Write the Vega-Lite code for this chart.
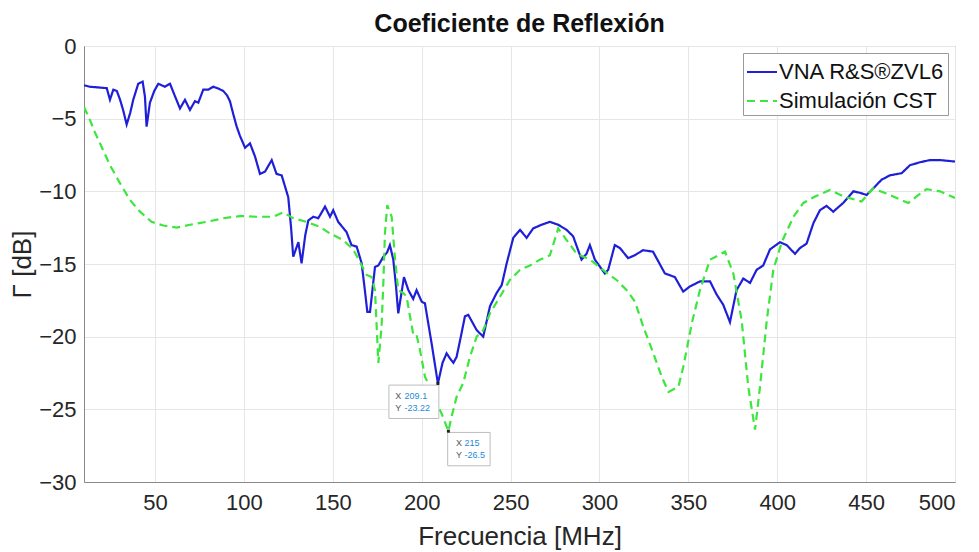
{
  "$schema": "https://vega.github.io/schema/vega-lite/v6.json",
  "autosize": {"type": "none"},
  "width": 871,
  "height": 436,
  "padding": {"left": 84, "top": 46, "right": 24, "bottom": 70},
  "background": "white",
  "title": {"text": "Coeficiente de Reflexión", "font": "Liberation Sans", "fontSize": 25, "fontWeight": "bold", "color": "#111", "offset": 8, "dy": 10, "anchor": "middle"},
  "config": {
    "view": {"stroke": "#9a9a9a", "strokeWidth": 1},
    "axis": {"labelFont": "Liberation Sans", "titleFont": "Liberation Sans", "labelFontSize": 22, "titleFontSize": 26, "titleFontWeight": "normal", "labelColor": "#262626", "titleColor": "#262626", "domainColor": "#8a8a8a", "gridColor": "#e6e6e6", "tickColor": "#8a8a8a", "ticks": false},
    "legend": {"labelFont": "Liberation Sans"}
  },
  "datasets": {
    "curves": [
      {"f":10,"g":-2.7,"s":"VNA R&S®ZVL6"},{"f":13,"g":-2.8,"s":"VNA R&S®ZVL6"},{"f":18,"g":-2.85,"s":"VNA R&S®ZVL6"},{"f":22.8,"g":-2.9,"s":"VNA R&S®ZVL6"},{"f":24.6,"g":-3.7,"s":"VNA R&S®ZVL6"},{"f":26.5,"g":-3.0,"s":"VNA R&S®ZVL6"},{"f":28.5,"g":-3.1,"s":"VNA R&S®ZVL6"},{"f":30.3,"g":-3.7,"s":"VNA R&S®ZVL6"},{"f":32,"g":-4.4,"s":"VNA R&S®ZVL6"},{"f":34,"g":-5.4,"s":"VNA R&S®ZVL6"},{"f":36,"g":-4.6,"s":"VNA R&S®ZVL6"},{"f":37.7,"g":-3.7,"s":"VNA R&S®ZVL6"},{"f":40.5,"g":-2.6,"s":"VNA R&S®ZVL6"},{"f":43,"g":-2.45,"s":"VNA R&S®ZVL6"},{"f":44.3,"g":-3.5,"s":"VNA R&S®ZVL6"},{"f":45.2,"g":-5.55,"s":"VNA R&S®ZVL6"},{"f":47.1,"g":-3.9,"s":"VNA R&S®ZVL6"},{"f":49.5,"g":-3.1,"s":"VNA R&S®ZVL6"},{"f":51.8,"g":-2.6,"s":"VNA R&S®ZVL6"},{"f":55.5,"g":-2.8,"s":"VNA R&S®ZVL6"},{"f":58.4,"g":-2.6,"s":"VNA R&S®ZVL6"},{"f":61,"g":-3.4,"s":"VNA R&S®ZVL6"},{"f":64,"g":-4.3,"s":"VNA R&S®ZVL6"},{"f":66.8,"g":-3.7,"s":"VNA R&S®ZVL6"},{"f":69.6,"g":-4.4,"s":"VNA R&S®ZVL6"},{"f":72.4,"g":-3.8,"s":"VNA R&S®ZVL6"},{"f":74.3,"g":-3.9,"s":"VNA R&S®ZVL6"},{"f":77.1,"g":-3.0,"s":"VNA R&S®ZVL6"},{"f":80,"g":-3.0,"s":"VNA R&S®ZVL6"},{"f":82.7,"g":-2.8,"s":"VNA R&S®ZVL6"},{"f":86,"g":-2.95,"s":"VNA R&S®ZVL6"},{"f":88.4,"g":-3.1,"s":"VNA R&S®ZVL6"},{"f":90.5,"g":-3.4,"s":"VNA R&S®ZVL6"},{"f":92.1,"g":-3.8,"s":"VNA R&S®ZVL6"},{"f":94,"g":-4.7,"s":"VNA R&S®ZVL6"},{"f":95.9,"g":-5.55,"s":"VNA R&S®ZVL6"},{"f":97.8,"g":-6.2,"s":"VNA R&S®ZVL6"},{"f":100.6,"g":-7.0,"s":"VNA R&S®ZVL6"},{"f":103.4,"g":-6.7,"s":"VNA R&S®ZVL6"},{"f":106.2,"g":-7.6,"s":"VNA R&S®ZVL6"},{"f":109,"g":-8.8,"s":"VNA R&S®ZVL6"},{"f":111.8,"g":-8.65,"s":"VNA R&S®ZVL6"},{"f":115.6,"g":-7.85,"s":"VNA R&S®ZVL6"},{"f":118.3,"g":-8.8,"s":"VNA R&S®ZVL6"},{"f":121.2,"g":-8.9,"s":"VNA R&S®ZVL6"},{"f":124.9,"g":-10.4,"s":"VNA R&S®ZVL6"},{"f":126.5,"g":-12.5,"s":"VNA R&S®ZVL6"},{"f":127.7,"g":-14.5,"s":"VNA R&S®ZVL6"},{"f":130.6,"g":-13.5,"s":"VNA R&S®ZVL6"},{"f":132.4,"g":-14.95,"s":"VNA R&S®ZVL6"},{"f":134.5,"g":-13.0,"s":"VNA R&S®ZVL6"},{"f":136.2,"g":-12.0,"s":"VNA R&S®ZVL6"},{"f":139,"g":-11.75,"s":"VNA R&S®ZVL6"},{"f":141.8,"g":-11.85,"s":"VNA R&S®ZVL6"},{"f":145.6,"g":-11.05,"s":"VNA R&S®ZVL6"},{"f":148.4,"g":-11.75,"s":"VNA R&S®ZVL6"},{"f":150.2,"g":-11.3,"s":"VNA R&S®ZVL6"},{"f":153,"g":-12.1,"s":"VNA R&S®ZVL6"},{"f":157.7,"g":-12.8,"s":"VNA R&S®ZVL6"},{"f":160.5,"g":-13.7,"s":"VNA R&S®ZVL6"},{"f":163.4,"g":-13.8,"s":"VNA R&S®ZVL6"},{"f":166.2,"g":-14.95,"s":"VNA R&S®ZVL6"},{"f":168,"g":-16.8,"s":"VNA R&S®ZVL6"},{"f":169.4,"g":-18.3,"s":"VNA R&S®ZVL6"},{"f":170.9,"g":-18.3,"s":"VNA R&S®ZVL6"},{"f":173.7,"g":-15.2,"s":"VNA R&S®ZVL6"},{"f":175.6,"g":-15.1,"s":"VNA R&S®ZVL6"},{"f":178.4,"g":-14.5,"s":"VNA R&S®ZVL6"},{"f":180.5,"g":-14.2,"s":"VNA R&S®ZVL6"},{"f":182.1,"g":-13.7,"s":"VNA R&S®ZVL6"},{"f":184,"g":-14.7,"s":"VNA R&S®ZVL6"},{"f":185.5,"g":-16.5,"s":"VNA R&S®ZVL6"},{"f":186.8,"g":-18.4,"s":"VNA R&S®ZVL6"},{"f":190,"g":-15.9,"s":"VNA R&S®ZVL6"},{"f":192.5,"g":-16.8,"s":"VNA R&S®ZVL6"},{"f":195.2,"g":-17.4,"s":"VNA R&S®ZVL6"},{"f":197.1,"g":-16.8,"s":"VNA R&S®ZVL6"},{"f":200,"g":-17.6,"s":"VNA R&S®ZVL6"},{"f":201.8,"g":-17.7,"s":"VNA R&S®ZVL6"},{"f":205.6,"g":-20.5,"s":"VNA R&S®ZVL6"},{"f":209.1,"g":-23.22,"s":"VNA R&S®ZVL6"},{"f":211.7,"g":-21.8,"s":"VNA R&S®ZVL6"},{"f":214,"g":-21.15,"s":"VNA R&S®ZVL6"},{"f":215.9,"g":-21.5,"s":"VNA R&S®ZVL6"},{"f":217.8,"g":-21.8,"s":"VNA R&S®ZVL6"},{"f":219.6,"g":-21.4,"s":"VNA R&S®ZVL6"},{"f":222,"g":-20.0,"s":"VNA R&S®ZVL6"},{"f":224.3,"g":-18.6,"s":"VNA R&S®ZVL6"},{"f":226.2,"g":-18.5,"s":"VNA R&S®ZVL6"},{"f":230.9,"g":-19.55,"s":"VNA R&S®ZVL6"},{"f":234.6,"g":-20.0,"s":"VNA R&S®ZVL6"},{"f":238.4,"g":-17.9,"s":"VNA R&S®ZVL6"},{"f":242.1,"g":-17.0,"s":"VNA R&S®ZVL6"},{"f":245,"g":-16.45,"s":"VNA R&S®ZVL6"},{"f":247.8,"g":-14.95,"s":"VNA R&S®ZVL6"},{"f":251.5,"g":-13.2,"s":"VNA R&S®ZVL6"},{"f":255.3,"g":-12.65,"s":"VNA R&S®ZVL6"},{"f":259,"g":-13.2,"s":"VNA R&S®ZVL6"},{"f":262.7,"g":-12.55,"s":"VNA R&S®ZVL6"},{"f":267.4,"g":-12.3,"s":"VNA R&S®ZVL6"},{"f":272.1,"g":-12.1,"s":"VNA R&S®ZVL6"},{"f":276.8,"g":-12.3,"s":"VNA R&S®ZVL6"},{"f":281.5,"g":-12.65,"s":"VNA R&S®ZVL6"},{"f":285.2,"g":-13.1,"s":"VNA R&S®ZVL6"},{"f":289.9,"g":-14.7,"s":"VNA R&S®ZVL6"},{"f":292.7,"g":-14.3,"s":"VNA R&S®ZVL6"},{"f":294.6,"g":-13.7,"s":"VNA R&S®ZVL6"},{"f":297.4,"g":-14.7,"s":"VNA R&S®ZVL6"},{"f":303,"g":-15.65,"s":"VNA R&S®ZVL6"},{"f":304.9,"g":-15.4,"s":"VNA R&S®ZVL6"},{"f":308.6,"g":-13.7,"s":"VNA R&S®ZVL6"},{"f":311.5,"g":-13.9,"s":"VNA R&S®ZVL6"},{"f":316.1,"g":-14.6,"s":"VNA R&S®ZVL6"},{"f":319.8,"g":-14.4,"s":"VNA R&S®ZVL6"},{"f":324.5,"g":-14.05,"s":"VNA R&S®ZVL6"},{"f":330.1,"g":-14.15,"s":"VNA R&S®ZVL6"},{"f":336.8,"g":-15.65,"s":"VNA R&S®ZVL6"},{"f":342.4,"g":-15.9,"s":"VNA R&S®ZVL6"},{"f":347.1,"g":-16.9,"s":"VNA R&S®ZVL6"},{"f":350.8,"g":-16.55,"s":"VNA R&S®ZVL6"},{"f":356.5,"g":-16.2,"s":"VNA R&S®ZVL6"},{"f":362.2,"g":-16.2,"s":"VNA R&S®ZVL6"},{"f":365.9,"g":-17.1,"s":"VNA R&S®ZVL6"},{"f":369.6,"g":-17.8,"s":"VNA R&S®ZVL6"},{"f":373.4,"g":-19.0,"s":"VNA R&S®ZVL6"},{"f":377.1,"g":-16.8,"s":"VNA R&S®ZVL6"},{"f":380.9,"g":-16.0,"s":"VNA R&S®ZVL6"},{"f":384.7,"g":-16.3,"s":"VNA R&S®ZVL6"},{"f":388.4,"g":-15.4,"s":"VNA R&S®ZVL6"},{"f":392.1,"g":-15.1,"s":"VNA R&S®ZVL6"},{"f":395.9,"g":-14.0,"s":"VNA R&S®ZVL6"},{"f":401.5,"g":-13.5,"s":"VNA R&S®ZVL6"},{"f":405.3,"g":-13.7,"s":"VNA R&S®ZVL6"},{"f":410,"g":-14.3,"s":"VNA R&S®ZVL6"},{"f":412.8,"g":-13.9,"s":"VNA R&S®ZVL6"},{"f":416.5,"g":-13.6,"s":"VNA R&S®ZVL6"},{"f":420.3,"g":-12.2,"s":"VNA R&S®ZVL6"},{"f":424,"g":-11.3,"s":"VNA R&S®ZVL6"},{"f":427.7,"g":-11.0,"s":"VNA R&S®ZVL6"},{"f":431.5,"g":-11.4,"s":"VNA R&S®ZVL6"},{"f":437.1,"g":-10.8,"s":"VNA R&S®ZVL6"},{"f":442.8,"g":-10.0,"s":"VNA R&S®ZVL6"},{"f":446.5,"g":-10.1,"s":"VNA R&S®ZVL6"},{"f":450.3,"g":-10.25,"s":"VNA R&S®ZVL6"},{"f":454,"g":-9.8,"s":"VNA R&S®ZVL6"},{"f":458.7,"g":-9.2,"s":"VNA R&S®ZVL6"},{"f":463.4,"g":-8.9,"s":"VNA R&S®ZVL6"},{"f":470,"g":-8.75,"s":"VNA R&S®ZVL6"},{"f":474.7,"g":-8.2,"s":"VNA R&S®ZVL6"},{"f":480.3,"g":-8.0,"s":"VNA R&S®ZVL6"},{"f":485.9,"g":-7.85,"s":"VNA R&S®ZVL6"},{"f":491.6,"g":-7.85,"s":"VNA R&S®ZVL6"},{"f":500,"g":-7.95,"s":"VNA R&S®ZVL6"},
      {"f":10,"g":-4.2,"s":"Simulación CST"},{"f":13.4,"g":-5.1,"s":"Simulación CST"},{"f":16,"g":-5.9,"s":"Simulación CST"},{"f":19,"g":-6.7,"s":"Simulación CST"},{"f":24.6,"g":-8.2,"s":"Simulación CST"},{"f":30.3,"g":-9.45,"s":"Simulación CST"},{"f":35.9,"g":-10.6,"s":"Simulación CST"},{"f":41.5,"g":-11.4,"s":"Simulación CST"},{"f":48,"g":-12.1,"s":"Simulación CST"},{"f":54.6,"g":-12.35,"s":"Simulación CST"},{"f":62.1,"g":-12.5,"s":"Simulación CST"},{"f":69.6,"g":-12.3,"s":"Simulación CST"},{"f":79,"g":-12.1,"s":"Simulación CST"},{"f":88.4,"g":-11.85,"s":"Simulación CST"},{"f":97.8,"g":-11.7,"s":"Simulación CST"},{"f":107.1,"g":-11.75,"s":"Simulación CST"},{"f":116.5,"g":-11.75,"s":"Simulación CST"},{"f":122.1,"g":-11.45,"s":"Simulación CST"},{"f":127.7,"g":-11.85,"s":"Simulación CST"},{"f":135.2,"g":-12.1,"s":"Simulación CST"},{"f":142.8,"g":-12.45,"s":"Simulación CST"},{"f":148.4,"g":-12.9,"s":"Simulación CST"},{"f":155.8,"g":-13.35,"s":"Simulación CST"},{"f":161.5,"g":-14.0,"s":"Simulación CST"},{"f":165.2,"g":-14.85,"s":"Simulación CST"},{"f":169,"g":-15.75,"s":"Simulación CST"},{"f":171.8,"g":-15.9,"s":"Simulación CST"},{"f":173.7,"g":-16.8,"s":"Simulación CST"},{"f":175.6,"g":-21.8,"s":"Simulación CST"},{"f":177.4,"g":-19.3,"s":"Simulación CST"},{"f":178.4,"g":-16.3,"s":"Simulación CST"},{"f":179.3,"g":-12.9,"s":"Simulación CST"},{"f":180.6,"g":-10.95,"s":"Simulación CST"},{"f":183.1,"g":-11.75,"s":"Simulación CST"},{"f":185,"g":-14.7,"s":"Simulación CST"},{"f":186.8,"g":-16.8,"s":"Simulación CST"},{"f":189.6,"g":-17.0,"s":"Simulación CST"},{"f":191.5,"g":-17.25,"s":"Simulación CST"},{"f":193.4,"g":-18.6,"s":"Simulación CST"},{"f":195.3,"g":-19.9,"s":"Simulación CST"},{"f":197.1,"g":-19.9,"s":"Simulación CST"},{"f":199,"g":-20.9,"s":"Simulación CST"},{"f":201.8,"g":-22.75,"s":"Simulación CST"},{"f":205.6,"g":-23.7,"s":"Simulación CST"},{"f":208.4,"g":-24.6,"s":"Simulación CST"},{"f":211.2,"g":-25.3,"s":"Simulación CST"},{"f":215,"g":-26.5,"s":"Simulación CST"},{"f":216.8,"g":-25.5,"s":"Simulación CST"},{"f":219.6,"g":-24.15,"s":"Simulación CST"},{"f":223.3,"g":-23.2,"s":"Simulación CST"},{"f":227.1,"g":-21.4,"s":"Simulación CST"},{"f":230.9,"g":-20.0,"s":"Simulación CST"},{"f":234.6,"g":-19.55,"s":"Simulación CST"},{"f":238.4,"g":-18.4,"s":"Simulación CST"},{"f":244,"g":-17.25,"s":"Simulación CST"},{"f":249.6,"g":-16.1,"s":"Simulación CST"},{"f":255.3,"g":-15.4,"s":"Simulación CST"},{"f":260.9,"g":-15.1,"s":"Simulación CST"},{"f":266.5,"g":-14.7,"s":"Simulación CST"},{"f":272.1,"g":-14.4,"s":"Simulación CST"},{"f":276.8,"g":-12.55,"s":"Simulación CST"},{"f":281.5,"g":-13.35,"s":"Simulación CST"},{"f":287.2,"g":-14.3,"s":"Simulación CST"},{"f":294.6,"g":-14.7,"s":"Simulación CST"},{"f":303,"g":-15.5,"s":"Simulación CST"},{"f":309.6,"g":-16.1,"s":"Simulación CST"},{"f":315.3,"g":-16.8,"s":"Simulación CST"},{"f":320,"g":-17.6,"s":"Simulación CST"},{"f":324.6,"g":-19.3,"s":"Simulación CST"},{"f":330.3,"g":-21.15,"s":"Simulación CST"},{"f":335,"g":-22.75,"s":"Simulación CST"},{"f":338.8,"g":-23.8,"s":"Simulación CST"},{"f":344.4,"g":-23.45,"s":"Simulación CST"},{"f":347.2,"g":-22.05,"s":"Simulación CST"},{"f":351.9,"g":-19.1,"s":"Simulación CST"},{"f":356.5,"g":-16.8,"s":"Simulación CST"},{"f":362.2,"g":-14.7,"s":"Simulación CST"},{"f":366.9,"g":-14.4,"s":"Simulación CST"},{"f":370.6,"g":-14.15,"s":"Simulación CST"},{"f":375.3,"g":-15.65,"s":"Simulación CST"},{"f":380,"g":-18.9,"s":"Simulación CST"},{"f":383.7,"g":-23.45,"s":"Simulación CST"},{"f":387.5,"g":-26.4,"s":"Simulación CST"},{"f":390.3,"g":-23.45,"s":"Simulación CST"},{"f":394.1,"g":-18.9,"s":"Simulación CST"},{"f":397.8,"g":-15.4,"s":"Simulación CST"},{"f":402.5,"g":-13.5,"s":"Simulación CST"},{"f":409.1,"g":-11.75,"s":"Simulación CST"},{"f":414.7,"g":-10.8,"s":"Simulación CST"},{"f":421.3,"g":-10.35,"s":"Simulación CST"},{"f":429.7,"g":-9.9,"s":"Simulación CST"},{"f":437.2,"g":-10.35,"s":"Simulación CST"},{"f":447.4,"g":-10.7,"s":"Simulación CST"},{"f":454,"g":-9.8,"s":"Simulación CST"},{"f":463.4,"g":-10.25,"s":"Simulación CST"},{"f":473.7,"g":-10.8,"s":"Simulación CST"},{"f":478.4,"g":-10.35,"s":"Simulación CST"},{"f":484,"g":-9.85,"s":"Simulación CST"},{"f":491.6,"g":-10.0,"s":"Simulación CST"},{"f":500,"g":-10.45,"s":"Simulación CST"}
    ],
    "tips": [
      {"f": 209.1, "g": -23.22, "lab": "X|Y", "val": "209.1|-23.22", "tip": "a"},
      {"f": 215, "g": -26.5, "lab": "X|Y", "val": "215|-26.5", "tip": "b"}
    ]
  },
  "encoding": {
    "x": {"field": "f", "type": "quantitative", "scale": {"domain": [10, 500], "nice": false, "zero": false}, "axis": {"values": [50,100,150,200,250,300,350,400,450,500], "title": "Frecuencia [MHz]", "labelPadding": 10, "titlePadding": 10, "grid": true}},
    "y": {"field": "g", "type": "quantitative", "scale": {"domain": [-30, 0], "nice": false, "zero": false}, "axis": {"values": [-30,-25,-20,-15,-10,-5,0], "title": "Γ [dB]", "labelPadding": 8, "titlePadding": 3, "grid": true}}
  },
  "layer": [
    {
      "data": {"name": "curves"},
      "mark": {"type": "line", "strokeWidth": 2.2, "clip": true},
      "encoding": {
        "color": {"field": "s", "type": "nominal", "scale": {"domain": ["VNA R&S®ZVL6", "Simulación CST"], "range": ["#1f1fd8", "#3ce63c"]}, "legend": {"title": null, "orient": "top-right", "offset": 7, "strokeColor": "#9a9a9a", "fillColor": "white", "padding": 3, "labelFontSize": 22, "labelColor": "#111", "symbolType": "stroke", "symbolSize": 900, "symbolStrokeWidth": 2, "labelOffset": 1, "rowPadding": 2, "labelLimit": 300}},
        "strokeDash": {"field": "s", "type": "nominal", "scale": {"domain": ["VNA R&S®ZVL6", "Simulación CST"], "range": [[1, 0], [8, 5]]}, "legend": {"title": null}},
        "order": {"field": "f", "type": "quantitative"}
      }
    },
    {
      "data": {"name": "tips"},
      "transform": [{"filter": "datum.tip == 'a'"}],
      "mark": {"type": "point", "shape": "M-2.085,0.07H0.04V1.49H-2.085Z", "size": 2209, "filled": true, "fill": "white", "stroke": "#bdbdbd", "strokeWidth": 1, "opacity": 1}
    },
    {
      "data": {"name": "tips"},
      "transform": [{"filter": "datum.tip == 'b'"}],
      "mark": {"type": "point", "shape": "M-0.03,0.055H1.775V1.475H-0.03Z", "size": 2209, "filled": true, "fill": "white", "stroke": "#bdbdbd", "strokeWidth": 1, "opacity": 1}
    },
    {
      "data": {"name": "tips"},
      "mark": {"type": "point", "shape": "square", "size": 9, "filled": true, "color": "#222", "opacity": 1}
    },
    {
      "data": {"name": "tips"},
      "transform": [{"filter": "datum.tip == 'a'"}],
      "mark": {"type": "text", "align": "left", "baseline": "middle", "dx": -42.6, "dy": 13, "lineBreak": "|", "lineHeight": 12, "font": "Liberation Sans", "fontSize": 9, "color": "#555"},
      "encoding": {"text": {"field": "lab"}}
    },
    {
      "data": {"name": "tips"},
      "transform": [{"filter": "datum.tip == 'a'"}],
      "mark": {"type": "text", "align": "left", "baseline": "middle", "dx": -33.3, "dy": 13, "lineBreak": "|", "lineHeight": 12, "font": "Liberation Sans", "fontSize": 9, "color": "#1f8ad6"},
      "encoding": {"text": {"field": "val"}}
    },
    {
      "data": {"name": "tips"},
      "transform": [{"filter": "datum.tip == 'b'"}],
      "mark": {"type": "text", "align": "left", "baseline": "middle", "dx": 7.7, "dy": 12.3, "lineBreak": "|", "lineHeight": 12, "font": "Liberation Sans", "fontSize": 9, "color": "#555"},
      "encoding": {"text": {"field": "lab"}}
    },
    {
      "data": {"name": "tips"},
      "transform": [{"filter": "datum.tip == 'b'"}],
      "mark": {"type": "text", "align": "left", "baseline": "middle", "dx": 16, "dy": 12.3, "lineBreak": "|", "lineHeight": 12, "font": "Liberation Sans", "fontSize": 9, "color": "#1f8ad6"},
      "encoding": {"text": {"field": "val"}}
    }
  ]
}
